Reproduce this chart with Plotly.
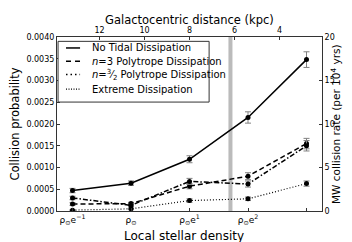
import plotly.graph_objects as go

# data
log_density = [-1, 0, 1, 2, 3]
no_tidal = [0.00047, 0.00064, 0.00119, 0.00215, 0.00348]
no_tidal_err = [0.00005, 0.00005, 0.00008, 0.00013, 0.00018]
poly3 = [0.00016, 0.00017, 0.00057, 0.00080, 0.00155]
poly3_err = [0.00003, 0.00003, 0.00006, 0.00008, 0.00012]
poly32 = [0.00030, 0.00013, 0.00068, 0.00062, 0.00150]
poly32_err = [0.00004, 0.00003, 0.00007, 0.00007, 0.00012]
extreme = [0.00002, 0.00005, 0.00024, 0.00028, 0.00063]
extreme_err = [0.00001, 0.00002, 0.00004, 0.00004, 0.00006]

series_names = ["No Tidal Dissipation",
                "<i>n</i>=3 Polytrope Dissipation",
                "<i>n</i>=<sup>3</sup>⁄<sub>2</sub> Polytrope Dissipation",
                "Extreme Dissipation"]

bottom_tickvals = [-1, 0, 1, 2, 3]
bottom_ticktext = ["ρ<sub>⊙</sub>e<sup>−1</sup>", "ρ<sub>⊙</sub>", "ρ<sub>⊙</sub>e<sup>1</sup>",
                   "ρ<sub>⊙</sub>e<sup>2</sup>", ""]
distances_kpc = [12, 10, 8, 6, 4]
R0 = 10.6
h = 2.6
marker_line_pos = 1.7

left_ticks = [0, 0.0005, 0.001, 0.0015, 0.002, 0.0025, 0.003, 0.0035, 0.004]
right_ticks = [0, 5, 10, 15, 20]

FONT = "DejaVu Sans"
AX = "#333"
fig = go.Figure()

styles = [("solid", 1.5), ("5px,3px", 1.5), ("5px,2px,1.5px,2px", 1.5), ("1px,2px", 1.2)]
values = [no_tidal, poly3, poly32, extreme]
errors = [no_tidal_err, poly3_err, poly32_err, extreme_err]

for name, vals, errs, (dash, w) in zip(series_names, values, errors, styles):
    fig.add_trace(go.Scatter(
        x=log_density, y=vals, mode="lines+markers", name=name, showlegend=False,
        line=dict(color="black", width=w, dash=dash),
        marker=dict(color="black", size=5),
        error_y=dict(type="data", array=errs, visible=True, color="#808080", thickness=1, width=3),
    ))

fig.add_trace(go.Scatter(x=[None], y=[None], xaxis="x2", showlegend=False))
fig.add_trace(go.Scatter(x=[None], y=[None], yaxis="y2", showlegend=False))

fig.add_shape(type="line", x0=marker_line_pos, x1=marker_line_pos, y0=0, y1=1,
              xref="x", yref="paper", line=dict(color="#bbbbbb", width=4), layer="below")

# manual legend (box, line glyphs, labels)
fig.add_shape(type="rect", xref="paper", yref="paper", x0=0.004, x1=0.574, y0=0.626, y1=0.975,
              line=dict(color=AX, width=1), fillcolor="white", layer="above")
legend_rows = [0.937, 0.860, 0.784, 0.701]
legend_dash = ["solid", "5px,4px", "1.5px,3px,1.5px,3px", "1px,1.5px"]
for name, yrow, ld, (dash, w) in zip(series_names, legend_rows, legend_dash, styles):
    fig.add_shape(type="line", xref="paper", yref="paper", x0=0.034, x1=0.087, y0=yrow, y1=yrow,
                  line=dict(color="black", width=w, dash=ld), layer="above")
    fig.add_annotation(xref="paper", yref="paper", x=0.123, y=yrow, text=name, showarrow=False,
                       xanchor="left", yanchor="middle", font=dict(size=10, family=FONT))

# axis titles as annotations
fig.add_annotation(xref="paper", yref="paper", x=1, xshift=13, y=0.5, xanchor="center", yanchor="middle",
                   text="MW collision rate (per 10<sup>4</sup> yrs)", textangle=-90, showarrow=False,
                   font=dict(size=10.5, family=FONT))
fig.add_annotation(xref="paper", yref="paper", x=0.5, y=1, yshift=17, xanchor="center", yanchor="middle",
                   text="Galactocentric distance (kpc)", showarrow=False, font=dict(size=11.5, family=FONT))
fig.add_annotation(xref="paper", yref="paper", x=0.48, y=0, yshift=-25, xanchor="center", yanchor="middle",
                   text="Local stellar density", showarrow=False, font=dict(size=12, family=FONT))

xr = [-1.265, 3.265]
common = dict(ticks="inside", ticklen=3, tickcolor=AX, showgrid=False, zeroline=False,
              showline=True, linecolor=AX, linewidth=1, automargin=False)
fig.update_layout(
    width=352, height=242,
    margin=dict(l=49, r=38, t=29, b=39),
    paper_bgcolor="white", plot_bgcolor="white",
    showlegend=False,
    font=dict(family=FONT, size=8, color="black"),
    xaxis=dict(range=xr, tickvals=bottom_tickvals, ticktext=bottom_ticktext, tickfont=dict(size=9), **common),
    xaxis2=dict(range=xr, overlaying="x", side="top",
                tickvals=[(R0 - d) / h for d in distances_kpc], ticktext=[str(d) for d in distances_kpc],
                tickfont=dict(size=8), **common),
    yaxis=dict(range=[0, 0.004], tickvals=left_ticks, tickformat=".4f", tickfont=dict(size=8),
               title=dict(text="Collision probability", font=dict(size=11.5), standoff=5), **common),
    yaxis2=dict(range=[0, 20], overlaying="y", side="right", tickvals=right_ticks,
                tickfont=dict(size=8), **common),
)

fig.write_html("out.html")
